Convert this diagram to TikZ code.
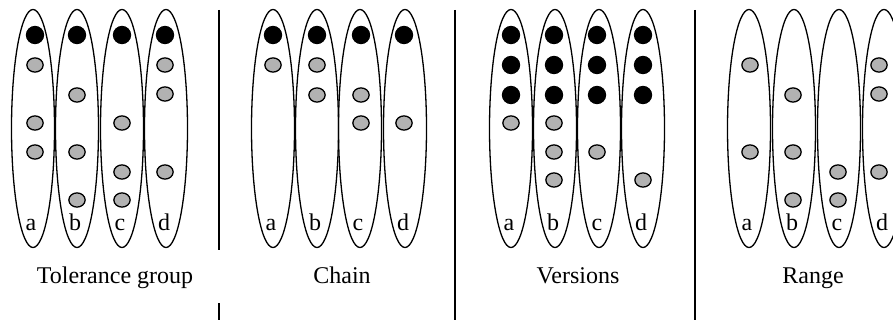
\documentclass[tikz,border=0pt]{standalone}
\usepackage{fontspec}
\setmainfont{Liberation Serif}
\usetikzlibrary{shapes.geometric}
\definecolor{dotgray}{gray}{0.70}
\tikzset{
  grp/.style={draw=black, ellipse, line width=1.3pt, inner sep=0pt, minimum width=43pt, minimum height=238pt},
  dotB/.style={circle, draw=black, fill=black, line width=1.3pt, inner sep=0pt, minimum size=17pt},
  dotG/.style={ellipse, draw=black, fill=dotgray, line width=1.3pt, inner sep=0pt, minimum width=16.3pt, minimum height=14.2pt},
  lbl/.style={anchor=base, inner sep=0pt, font=\fontsize{24}{28}\selectfont},
  captxt/.style={anchor=base, inner sep=0pt, font=\fontsize{24}{28}\selectfont},
  divider/.style={draw=black, line width=1.3pt}
}
\begin{document}
\begin{tikzpicture}[x=1pt,y=-1pt]
\useasboundingbox (0,0) rectangle (893,320);
\foreach \nm/\ex/\dx/\lab/\dl in {
  P1a/33/35/a/{B/35,G/65,G/123,G/152},
  P1b/77/77/b/{B/35,G/95,G/152,G/200},
  P1c/122/122/c/{B/35,G/123,G/172,G/200},
  P1d/166/165/d/{B/35,G/65,G/94,G/172},
  P2a/273/273/a/{B/35,G/65},
  P2b/317/317/b/{B/35,G/65,G/95},
  P2c/360/361/c/{B/35,G/95,G/123},
  P2d/405/404/d/{B/35,G/123},
  P3a/511/511/a/{B/35,B/65,B/95,G/123},
  P3b/555/554/b/{B/35,B/65,B/95,G/123,G/152,G/180},
  P3c/599/597/c/{B/35,B/65,B/95,G/152},
  P3d/643/643/d/{B/35,B/65,B/95,G/180},
  P4a/749/750/a/{G/65,G/152},
  P4b/794/793/b/{G/95,G/152,G/200},
  P4c/839/838/c/{G/172,G/200},
  P4d/884/879/d/{G/65,G/94,G/172}} {
  \node[grp] (\nm) at (\ex,128.5) {};
  \node[lbl] (\nm-l) at (\ex-2,230) {\lab};
  \foreach \t/\y [count=\i] in \dl {
    \node[dot\t] (\nm-\i) at (\dx,\y) {};
  }
}
\node[captxt] (c1) at (115,283) {Tolerance group};
\node[captxt] (c2) at (342,283) {Chain};
\node[captxt] (c3) at (578,283) {Versions};
\node[captxt] (c4) at (813,283) {Range};
\coordinate (d1t) at (219,10);
\coordinate (d1m) at (219,250);
\coordinate (d1n) at (219,303);
\coordinate (d1b) at (219,320);
\coordinate (d2t) at (455,10);
\coordinate (d2b) at (455,320);
\coordinate (d3t) at (695,10);
\coordinate (d3b) at (695,320);
\draw[divider] (d1t) -- (d1m);
\draw[divider] (d1n) -- (d1b);
\draw[divider] (d2t) -- (d2b);
\draw[divider] (d3t) -- (d3b);
\end{tikzpicture}
\end{document}
